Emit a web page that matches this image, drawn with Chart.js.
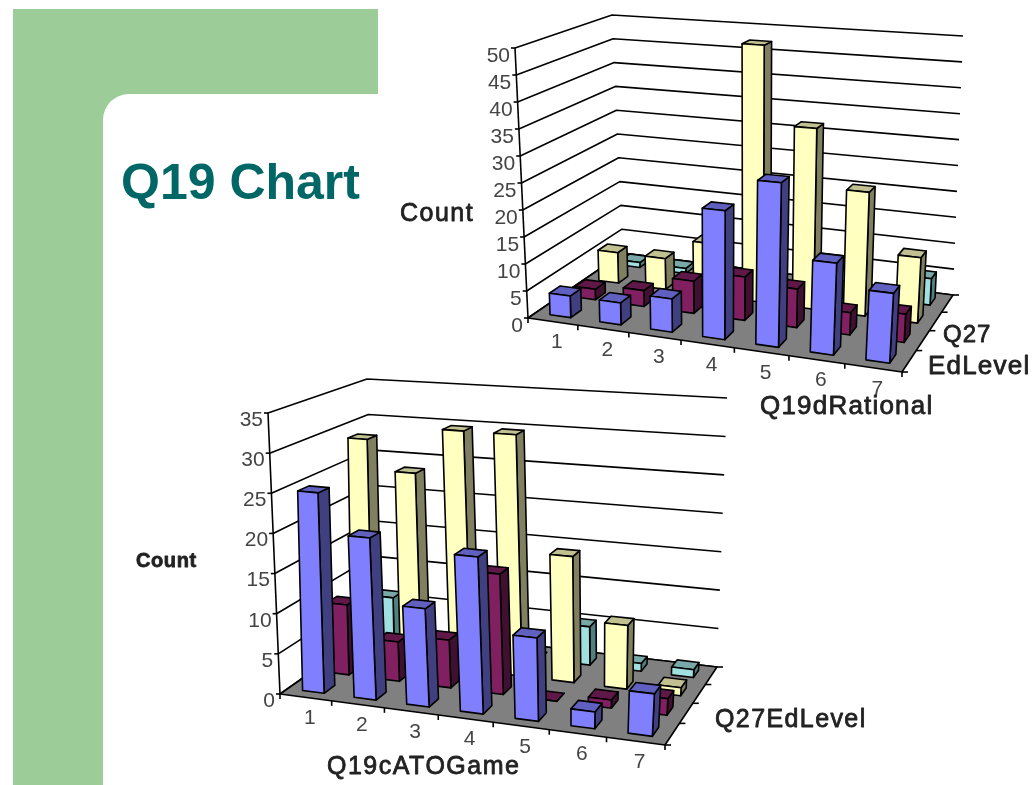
<!DOCTYPE html>
<html>
<head>
<meta charset="utf-8">
<title>Q19 Chart</title>
<script src="https://cdn.jsdelivr.net/npm/chart.js@4/dist/chart.umd.min.js"></script>
<style>
  html, body { margin: 0; padding: 0; background: #fff; }
  body { width: 1036px; height: 785px; position: relative; overflow: hidden; font-family: "Liberation Sans", Arial, sans-serif; }
  .band { position: absolute; background: #9ccc98; }
  #bandTop { left: 13px; top: 9px; width: 365px; height: 85px; }
  #bandLeft { left: 13px; top: 9px; width: 90px; height: 776px; }
  #cornerFill { left: 103px; top: 94px; width: 30px; height: 30px; }
  #corner { position: absolute; left: 103px; top: 94px; width: 60px; height: 60px; background: #fff; border-top-left-radius: 26px; }
  h1 { position: absolute; left: 121px; top: 155px; margin: 0; font-size: 50px; line-height: 54px; font-weight: bold; color: #006666; }
  canvas { position: absolute; left: 0; top: 0; }
</style>
</head>
<body>
<div class="band" id="bandTop"></div>
<div class="band" id="bandLeft"></div>
<div class="band" id="cornerFill"></div>
<div id="corner"></div>
<h1>Q19 Chart</h1>
<canvas id="rational" width="1036" height="785"></canvas>
<canvas id="game" width="1036" height="785"></canvas>

<script>
const categories = ['1', '2', '3', '4', '5', '6', '7'];
const levels = ['1', '2', '3', '4'];

// Q19dRational counts, one array per Q27EdLevel
const rationalLevel1 = [4, 4, 6, 23, 29, 16, 12];
const rationalLevel2 = [2, 3, 6, 8, 7, 4, 5];
const rationalLevel3 = [6, 6, 10, 49, 34, 23, 12];
const rationalLevel4 = [1, 1, 1, 0, 0, 0, 5];

// Q19cATOGame counts, one array per Q27EdLevel
const gameLevel1 = [25, 20, 12, 19, 10, 2, 5];
const gameLevel2 = [9, 5, 6, 15, 0, 1, 2];
const gameLevel3 = [29, 25, 31, 31, 16, 8, 1];
const gameLevel4 = [6, 0, 0, 0, 5, 1, 1];

const levelColors = [
  { face: '#8080ff', side: '#404080', top: '#6060c0' },
  { face: '#802060', side: '#401030', top: '#601848' },
  { face: '#ffffc0', side: '#808060', top: '#c0c090' },
  { face: '#a0e0e0', side: '#508080', top: '#78a8a8' }
];

// maps the unit square onto a four sided floor or ceiling, with perspective
function squareToQuad(fl, fr, br, bl) {
  const dx1 = fr[0] - br[0], dx2 = bl[0] - br[0], sx = fl[0] - fr[0] + br[0] - bl[0];
  const dy1 = fr[1] - br[1], dy2 = bl[1] - br[1], sy = fl[1] - fr[1] + br[1] - bl[1];
  const den = dx1 * dy2 - dx2 * dy1;
  const g = (sx * dy2 - dx2 * sy) / den;
  const h = (dx1 * sy - sx * dy1) / den;
  const a = fr[0] - fl[0] + g * fr[0], b = bl[0] - fl[0] + h * bl[0];
  const d = fr[1] - fl[1] + g * fr[1], e = bl[1] - fl[1] + h * bl[1];
  return function (u, v) {
    const w = g * u + h * v + 1;
    return [(a * u + b * v + fl[0]) / w, (d * u + e * v + fl[1]) / w];
  };
}

function polygon(ctx, pts, fill) {
  ctx.beginPath();
  pts.forEach(function (p, i) {
    if (i === 0) ctx.moveTo(p[0], p[1]);
    else ctx.lineTo(p[0], p[1]);
  });
  ctx.closePath();
  if (fill) {
    ctx.fillStyle = fill;
    ctx.fill();
  }
  ctx.stroke();
}

function line(ctx, pts) {
  ctx.beginPath();
  pts.forEach(function (p, i) {
    if (i === 0) ctx.moveTo(p[0], p[1]);
    else ctx.lineTo(p[0], p[1]);
  });
  ctx.stroke();
}

// the library has no 3D bars, so this replaces the dataset drawing step
// and runs every value through the chart's x, z and y scales
const box3d = {
  id: 'box3d',
  beforeDatasetsDraw(chart, args, opts) {
    const ctx = chart.ctx;
    const xs = chart.scales.x, ys = chart.scales.y, zs = chart.scales.z;
    const floor = squareToQuad.apply(null, opts.floor);
    const ceiling = squareToQuad.apply(null, opts.ceiling);
    const project = function (u, v, w) {
      const p = floor(u, v), q = ceiling(u, v);
      return [p[0] + (q[0] - p[0]) * w, p[1] + (q[1] - p[1]) * w];
    };
    // bars stand a bit straighter than the walls lean
    const barPoint = function (u, v, w) {
      const p = project(u, v, w);
      return [p[0] + opts.barLean * w, p[1]];
    };
    const uOf = (i) => (xs.getPixelForValue(i) - xs.left) / xs.width;
    const vOf = (i) => (zs.getPixelForValue(i) - zs.left) / zs.width;
    const wOf = (val) => (ys.bottom - ys.getPixelForValue(val)) / ys.height;

    ctx.save();
    ctx.lineWidth = 1.6;
    ctx.strokeStyle = '#000';
    ctx.lineJoin = 'round';

    // wall grid lines
    ys.ticks.forEach(function (t) {
      const w = wOf(t.value);
      line(ctx, [project(0, 0, w), project(0, 1, w), project(1, 1, w)]);
      const p = project(0, 0, w);
      line(ctx, [p, [p[0] - 4, p[1]]]);
    });

    polygon(ctx, [project(0, 0, 0), project(1, 0, 0), project(1, 1, 0), project(0, 1, 0)], '#808080');
    line(ctx, [project(0, 0, 0), project(0, 0, 1)]);

    // tick marks along the front and right floor edges
    for (let i = 0; i <= categories.length; i++) {
      const p = project(i / categories.length, 0, 0);
      line(ctx, [p, [p[0], p[1] + 5]]);
    }
    for (let i = 0; i <= levels.length; i++) {
      const p = project(1, i / levels.length, 0);
      line(ctx, [p, [p[0] + 6, p[1]]]);
    }

    // back row first, so nearer bars cover the ones behind them
    const halfU = opts.barWidth / categories.length / 2;
    const halfV = opts.barDepth / levels.length / 2;
    for (let d = chart.data.datasets.length - 1; d >= 0; d--) {
      const colors = levelColors[d];
      const values = chart.data.datasets[d].data;
      for (let i = 0; i < values.length; i++) {
        const u0 = uOf(i) - halfU, u1 = uOf(i) + halfU;
        const v0 = vOf(d) - halfV, v1 = vOf(d) + halfV;
        const w = wOf(values[i]);
        polygon(ctx, [barPoint(u1, v0, 0), barPoint(u1, v1, 0), barPoint(u1, v1, w), barPoint(u1, v0, w)], colors.side);
        polygon(ctx, [barPoint(u0, v0, w), barPoint(u1, v0, w), barPoint(u1, v1, w), barPoint(u0, v1, w)], colors.top);
        polygon(ctx, [barPoint(u0, v0, 0), barPoint(u1, v0, 0), barPoint(u1, v0, w), barPoint(u0, v0, w)], colors.face);
      }
    }

    // tick labels
    ctx.fillStyle = '#444';
    ctx.font = opts.tickFont;
    ctx.textAlign = 'right';
    ctx.textBaseline = 'middle';
    ys.ticks.forEach(function (t) {
      const p = project(0, 0, wOf(t.value));
      ctx.fillText(String(t.value), p[0] - 5, p[1] + opts.tickDrop);
    });
    ctx.textAlign = 'center';
    xs.getLabels().forEach(function (label, i) {
      const p = project(uOf(i), 0, 0);
      ctx.fillText(label, p[0] + 4, p[1] + 21);
    });

    // axis titles, regular weight thickened a little with a thin stroke
    ctx.textAlign = 'left';
    ctx.fillStyle = '#222';
    ctx.strokeStyle = '#222';
    ctx.lineWidth = 0.8;
    opts.titles.forEach(function (t) {
      ctx.font = t.font;
      ctx.letterSpacing = t.spacing;
      ctx.fillText(t.text, t.at[0], t.at[1]);
      ctx.strokeText(t.text, t.at[0], t.at[1]);
    });
    ctx.restore();
    return false;
  }
};

function makeChart(id, sets, maxValue, plot) {
  return new Chart(document.getElementById(id), {
    type: 'bar',
    data: {
      labels: categories,
      datasets: sets.map(function (vals, i) {
        return { label: levels[i], data: vals, backgroundColor: levelColors[i].face };
      })
    },
    options: {
      responsive: false,
      animation: false,
      events: [],
      scales: {
        x: { display: false },
        z: { type: 'category', axis: 'x', labels: levels, offset: true, display: false },
        y: { display: false, min: 0, max: maxValue, ticks: { stepSize: 5, autoSkip: false } }
      },
      plugins: {
        legend: { display: false },
        tooltip: { enabled: false },
        box3d: plot
      }
    },
    plugins: [box3d]
  });
}

makeChart('rational', [rationalLevel1, rationalLevel2, rationalLevel3, rationalLevel4], 50, {
  floor: [[528, 318], [902, 372], [953, 295], [623, 253]],
  ceiling: [[515, 48], [916, 77], [963, 36], [612, 15]],
  barWidth: 0.42,
  barDepth: 0.42,
  barLean: 4,
  tickFont: '21px "Liberation Sans"',
  tickDrop: 8,
  titles: [
    { text: 'Count', at: [400, 214], font: '25px "Liberation Sans"', spacing: '1.5px' },
    { text: 'Q27', at: [943, 335], font: '24px "Liberation Sans"', spacing: '1px' },
    { text: 'EdLevel', at: [928, 367], font: '26px "Liberation Sans"', spacing: '1.2px' },
    { text: 'Q19dRational', at: [760, 407], font: '26px "Liberation Sans"', spacing: '1.2px' }
  ]
});

makeChart('game', [gameLevel1, gameLevel2, gameLevel3, gameLevel4], 35, {
  floor: [[280, 694], [665, 745], [717, 667], [376, 627]],
  ceiling: [[268, 413], [677, 445], [727, 398], [367, 379]],
  barWidth: 0.42,
  barDepth: 0.42,
  barLean: 6,
  tickFont: '21px "Liberation Sans"',
  tickDrop: 7,
  titles: [
    { text: 'Count', at: [136, 561], font: 'bold 20px "Liberation Sans"', spacing: '0.6px' },
    { text: 'Q27EdLevel', at: [715, 720], font: '25px "Liberation Sans"', spacing: '1.4px' },
    { text: 'Q19cATOGame', at: [327, 767], font: '25px "Liberation Sans"', spacing: '1.5px' }
  ]
});
</script>
</body>
</html>
